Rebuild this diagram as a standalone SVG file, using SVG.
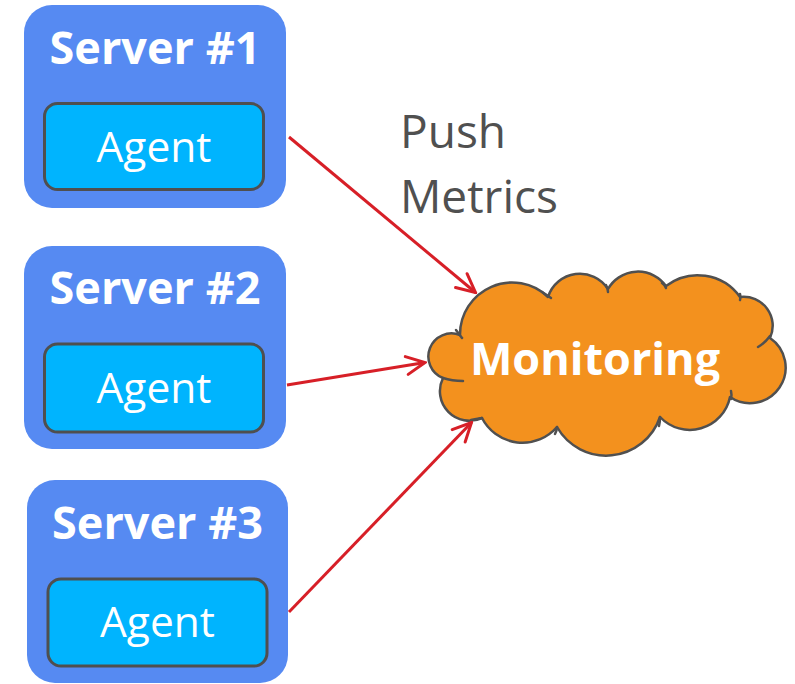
<svg xmlns="http://www.w3.org/2000/svg" width="795" height="684" viewBox="0 0 795 684">
<style>
.server{fill:#568AF2;}
.agent{fill:#00B4FE;stroke:#4F4F4F;stroke-width:3;}
.title{font-family:"Open Sans","Liberation Sans",sans-serif;font-weight:bold;font-size:45px;fill:#FFFFFF;text-anchor:middle;}
.agtxt{font-family:"Open Sans","Liberation Sans",sans-serif;font-size:42.5px;fill:#FFFFFF;text-anchor:middle;}
.conn{stroke:#D71F27;stroke-width:3;fill:none;}
.label{font-family:"Open Sans","Liberation Sans",sans-serif;font-size:46px;fill:#505050;}
.cloud{fill:#F3911E;stroke:#505050;stroke-width:2.5;stroke-linejoin:round;}
.stub{fill:none;stroke:#505050;stroke-width:2.5;stroke-linecap:round;}
</style>
<defs>
<marker id="arrow" viewBox="-22 -12 24 24" refX="0" refY="0" markerWidth="24" markerHeight="24" markerUnits="userSpaceOnUse" orient="auto">
<path d="M-18.5,-9 L0,0 L-18.5,9" fill="none" stroke="#D71F27" stroke-width="3" stroke-linecap="round" stroke-linejoin="miter"/>
</marker>
</defs>
<rect width="795" height="684" fill="#FFFFFF"/>
<g id="server1">
<rect class="server" x="24" y="5" width="262" height="203" rx="28"/>
<text class="title" x="155" y="64">Server #1</text>
<g id="agent1">
<rect class="agent" x="44.5" y="103.5" width="219" height="86" rx="13"/>
<text class="agtxt" x="154" y="162">Agent</text>
</g>
</g>
<g id="server2">
<rect class="server" x="24" y="246" width="262" height="203" rx="28"/>
<text class="title" x="155" y="304">Server #2</text>
<g id="agent2">
<rect class="agent" x="44.5" y="344" width="219" height="88" rx="13"/>
<text class="agtxt" x="154" y="403">Agent</text>
</g>
</g>
<g id="server3">
<rect class="server" x="27" y="480" width="261" height="203" rx="28"/>
<text class="title" x="157.5" y="539">Server #3</text>
<g id="agent3">
<rect class="agent" x="48" y="579" width="219" height="87" rx="13"/>
<text class="agtxt" x="157.5" y="637">Agent</text>
</g>
</g>
<g id="monitoring">
<path class="cloud" d="M460,335 A52,52 0 0 1 548,297 A33.5,33.5 0 0 1 608,289 A34.5,34.5 0 0 1 666,286 A52,52 0 0 1 740,297 A29,29 0 0 1 770,338 A31,31 0 0 1 730,397 A41,41 0 0 1 660,417 A56.7,56.7 0 0 1 557,427 A45.6,45.6 0 0 1 482,418 A29.6,29.6 0 0 1 443,378 A23,23 0 1 1 460,335 Z"/>
<path class="stub" d="M456,330 Q459,334 462,338"/>
<path class="stub" d="M443,378 Q452,381 463,381"/>
<path class="stub" d="M542,292 Q547,295 551,298"/>
<path class="stub" d="M606,285 Q608,289 608,292"/>
<path class="stub" d="M662,283 Q665,285 666,288"/>
<path class="stub" d="M740,294 Q741,297 740,300"/>
<path class="stub" d="M770,336 Q765,343 758,347"/>
<path class="stub" d="M731,391 Q732,395 731,399"/>
<path class="stub" d="M660,417 Q660,422 659,426"/>
<path class="stub" d="M557,427 Q557,430 555,434"/>
<path class="stub" d="M482,418 Q476,419 471,420"/>
<text x="595" y="375" font-family="'Open Sans','Liberation Sans',sans-serif" font-weight="bold" font-size="45" fill="#FFFFFF" text-anchor="middle">Monitoring</text>
</g>
<text class="label" x="400" y="148">Push</text>
<text class="label" x="400" y="213">Metrics</text>
<g id="connectors">
<path class="conn" d="M289,137 L475.5,292.5" marker-end="url(#arrow)"/>
<path class="conn" d="M287,385 L425,362.5" marker-end="url(#arrow)"/>
<path class="conn" d="M289,612 L471.5,422.5" marker-end="url(#arrow)"/>
</g>
</svg>
